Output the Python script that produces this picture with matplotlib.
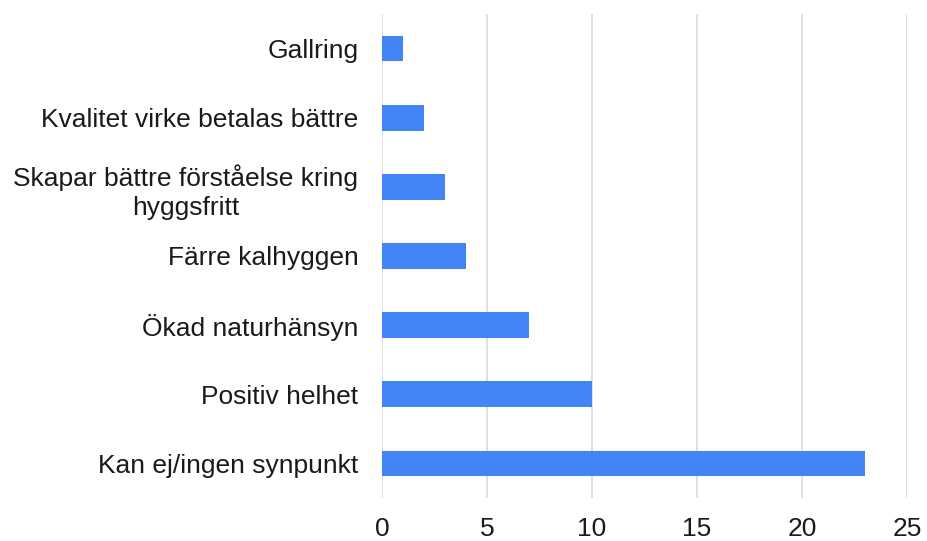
import matplotlib
matplotlib.use("Agg")
import matplotlib.pyplot as plt

categories = ["Gallring", "Kvalitet virke betalas bättre",
              "Skapar bättre förståelse kring\nhyggsfritt", "Färre kalhyggen",
              "Ökad naturhänsyn", "Positiv helhet", "Kan ej/ingen synpunkt"]
values = [1, 2, 3, 4, 7, 10, 23]
xticks = [0, 5, 10, 15, 20, 25]

plt.rcParams['font.family'] = ['Liberation Sans', 'DejaVu Sans']
fig = plt.figure(figsize=(9.27, 5.41), dpi=100)
ax = fig.add_axes([382/927, 1-498/541, (907-382)/927, (498-14)/541])

pos = list(range(len(categories)))
ax.barh(pos, values, height=0.37, color="#4285F4", zorder=3)
ax.set_ylim(len(categories)-0.5, -0.5)
ax.set_xlim(0, 25)
ax.set_yticks(pos)
ax.set_yticklabels(categories, fontsize=19, color="#1a1a1a",
                   multialignment="center", linespacing=1.3)
ax.tick_params(axis='y', length=0, pad=17)
ax.set_xticks(xticks)
ax.set_xticklabels([str(x) for x in xticks], fontsize=19, color="#1a1a1a")
ax.tick_params(axis='x', length=0, pad=14)
ax.grid(axis='x', color="#d9d9d9", linewidth=1.2, zorder=0)
for s in ax.spines.values():
    s.set_visible(False)
fig.savefig("out.png", dpi=100)
